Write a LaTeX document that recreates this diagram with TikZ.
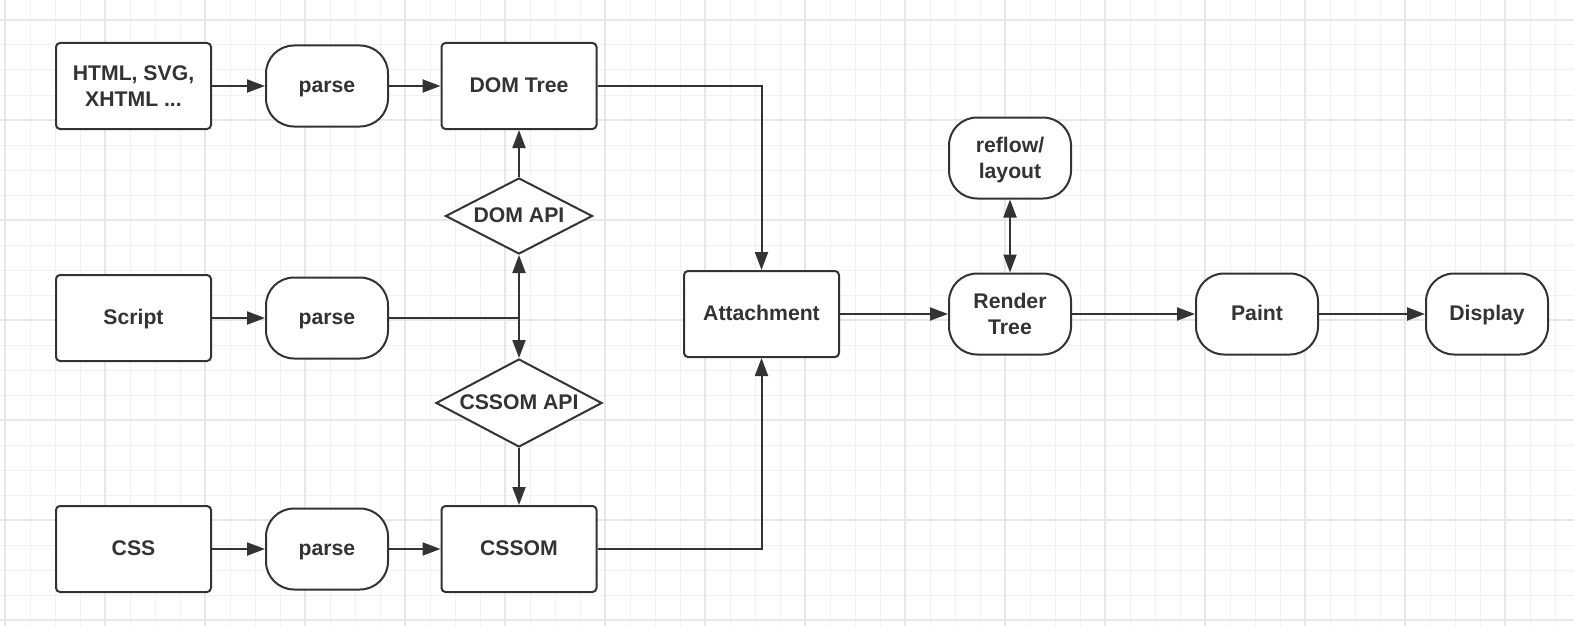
\documentclass[tikz,border=0pt]{standalone}
\usepackage{fontspec}
\setmainfont{Liberation Sans}
\usetikzlibrary{shapes.geometric,arrows.meta}
\definecolor{ink}{HTML}{333333}
\definecolor{gridminor}{HTML}{F1F1F1}
\definecolor{gridmajor}{HTML}{E7E7E7}
\newcommand{\twoline}[2]{\raisebox{-2.5pt}[\height][\depth]{\begin{tabular}{@{}c@{}}#1\\#2\end{tabular}}}
\tikzset{
  % plain box with small rounded corners
  srcbox/.style={draw=ink, line width=2pt, fill=white, rounded corners=4pt,
    minimum width=155pt, minimum height=86pt, text=ink, align=center,
    text height=16pt, text depth=3pt,
    font=\bfseries\fontsize{21.2}{26}\selectfont},
  % pill shaped step
  pill/.style={srcbox, rounded corners=28pt, minimum width=122pt, minimum height=81pt},
  % two lines of text
  twolines/.style={text height={}, text depth={}},
  % api diamond
  api/.style={diamond, draw=ink, line width=2pt, fill=white, inner sep=0pt, text=ink,
    aspect=1.9, text height=16pt, text depth=3pt,
    font=\bfseries\fontsize{21.2}{26}\selectfont},
  % connector with filled tip
  flow/.style={draw=ink, line width=2pt, -{Triangle[length=18pt,width=13pt]}},
}

\begin{document}
\begin{tikzpicture}[x=1pt,y=-1pt]
  \useasboundingbox[fill=white] (0,0) rectangle (1574,626);
  % Draw the grid
  \foreach \gx in {5,30,...,1574} {
    \draw[gridminor, line width=1pt] (\gx,0) -- (\gx,626);
  }
  \foreach \gy in {20,45,...,626} {
    \draw[gridminor, line width=1pt] (0,\gy) -- (1574,\gy);
  }
  \foreach \gx in {5,105,...,1574} {
    \draw[gridmajor, line width=1.5pt] (\gx,0) -- (\gx,626);
  }
  \foreach \gy in {20,120,...,626} {
    \draw[gridmajor, line width=1.5pt] (0,\gy) -- (1574,\gy);
  }
  % Sources and parsers
  \node[srcbox, twolines] (html) at (133.5,86) {\twoline{HTML, SVG,}{XHTML ...}};
  \node[pill] (parsehtml) at (327,86) {parse};
  \node[srcbox] (domtree) at (519,86) {DOM Tree};
  \node[srcbox] (script) at (133.5,318) {Script};
  \node[pill] (parsescript) at (327,318) {parse};
  \node[srcbox] (css) at (133.5,549) {CSS};
  \node[pill] (parsecss) at (327,549) {parse};
  \node[srcbox] (cssom) at (519,549) {CSSOM};
  % APIs
  \node[api, minimum width=147pt, minimum height=76pt] (domapi) at (519,216) {DOM API};
  \node[api, minimum width=166pt, minimum height=88pt] (cssomapi) at (519,403) {CSSOM API};
  % Rendering
  \node[srcbox] (attach) at (761.5,314) {Attachment};
  \node[pill, twolines] (reflow) at (1010,158) {\twoline{reflow/}{layout}};
  \node[pill, twolines] (render) at (1010,314) {\twoline{Render}{Tree}};
  \node[pill] (paint) at (1257,314) {Paint};
  \node[pill] (display) at (1487,314) {Display};
  % Draw the connectors
  \draw[flow] (html) -- (parsehtml);
  \draw[flow] (parsehtml) -- (domtree);
  \draw[flow] (script) -- (parsescript);
  \draw[flow] (css) -- (parsecss);
  \draw[flow] (parsecss) -- (cssom);
  \coordinate (junction) at (parsescript.east -| domapi.south);
  \draw[draw=ink, line width=2pt] (parsescript.east) -- (junction);
  \draw[flow] (junction) -- (domapi.south);
  \draw[flow] (junction) -- (cssomapi.north);
  \draw[flow] (domapi.north) -- (domtree.south);
  \draw[flow] (cssomapi.south) -- (cssom.north);
  \draw[flow] (domtree.east) -| (attach.north);
  \draw[flow] (cssom.east) -| (attach.south);
  \draw[flow] (attach) -- (render);
  \draw[flow] (render) -- (paint);
  \draw[flow] (paint) -- (display);
  \draw[flow, {Triangle[length=18pt,width=13pt]}-{Triangle[length=18pt,width=13pt]}] (render) -- (reflow);
\end{tikzpicture}
\end{document}
